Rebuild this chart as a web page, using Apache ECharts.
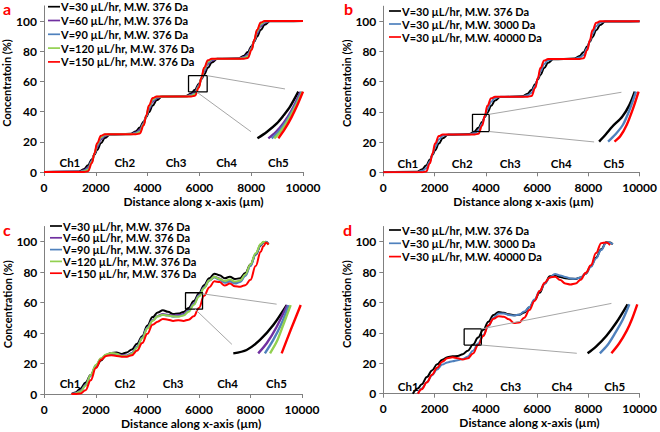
<!DOCTYPE html>
<html>
<head>
<meta charset="utf-8">
<script src="https://cdn.jsdelivr.net/npm/echarts@6/dist/echarts.min.js"></script>
<style>
html, body { margin: 0; padding: 0; background: #fff; }
#chart { width: 660px; height: 432px; }
</style>
</head>
<body>
<div id="chart"></div>
<script>
// legend names and colours
var velNames = ['V=30 µL/hr, M.W. 376 Da', 'V=60 µL/hr, M.W. 376 Da', 'V=90 µL/hr, M.W. 376 Da', 'V=120 µL/hr, M.W. 376 Da', 'V=150 µL/hr, M.W. 376 Da'];
var mwNames = ['V=30 µL/hr, M.W. 376 Da', 'V=30 µL/hr, M.W. 3000 Da', 'V=30 µL/hr, M.W. 40000 Da'];
var velColors = ['#000000', '#7030a0', '#4f81bd', '#92d050', '#ff0000'];
var mwColors = ['#000000', '#4f81bd', '#ff0000'];
var chLabels = ['Ch1', 'Ch2', 'Ch3', 'Ch4', 'Ch5'];
var xTicks = [0, 2000, 4000, 6000, 8000, 10000];
var yTicks = [0, 20, 40, 60, 80, 100];

// panel a
var aX = [0, 1350, 1550, 1700, 1850, 1950, 2050, 2200, 2350, 2550, 3350, 3550, 3700, 3850, 3950, 4050, 4200, 4350, 4550, 5480, 5680, 5830, 5980, 6080, 6180, 6330, 6480, 6680, 7520, 7720, 7870, 8020, 8120, 8220, 8370, 8520, 8720, 10000];
var aBlack = [0, 0.3, 2, 4.5, 8.5, 11.5, 14.5, 19, 22.5, 24.8, 25.3, 27, 29.5, 33.5, 36.5, 39.5, 44, 47.5, 49.8, 50.3, 52, 54.5, 58.5, 61.5, 64.5, 69, 72.5, 74.8, 75.3, 77, 79.5, 83.5, 86.5, 89.5, 94, 97.5, 99.8, 100];
var aPurple = [0, 0.1, 1.2, 3, 7.5, 12, 16.5, 21.5, 24, 25, 25.1, 26.2, 28, 32.5, 37, 41.5, 46.5, 49, 50, 50.1, 51.2, 53, 57.5, 62, 66.5, 71.5, 74, 75, 75.1, 76.2, 78, 82.5, 87, 91.5, 96.5, 99, 100, 100];
var aBlue = [0, 0, 0.8, 2.2, 7, 12.2, 17.5, 22.5, 24.5, 25, 25, 25.8, 27.2, 32, 37.2, 42.5, 47.5, 49.5, 50, 50, 50.8, 52.2, 57, 62.2, 67.5, 72.5, 74.5, 75, 75, 75.8, 77.2, 82, 87.2, 92.5, 97.5, 99.5, 100, 100];
var aGreen = [0, 0, 0.4, 1.5, 6.5, 12.3, 18.3, 23.2, 24.8, 25, 25, 25.4, 26.5, 31.5, 37.3, 43.3, 48.2, 49.8, 50, 50, 50.4, 51.5, 56.5, 62.3, 68.3, 73.2, 74.8, 75, 75, 75.4, 76.5, 81.5, 87.3, 93.3, 98.2, 99.8, 100, 100];
var aRed = [0, 0, 0, 0.5, 6, 12.5, 19, 24, 25, 25, 25, 25, 25.5, 31, 37.5, 44, 49, 50, 50, 50, 50, 50.5, 56, 62.5, 69, 74, 75, 75, 75, 75, 75.5, 81, 87.5, 94, 99, 100, 100, 100];
var aInset = [
  [[8240, 22.3], [8600, 26.5], [8990, 32.2], [9250, 37.5], [9500, 43.3], [9820, 53.2]],
  [[8660, 22.3], [8950, 26.5], [9250, 32.5], [9550, 40.5], [9910, 53.2]],
  [[8790, 22.3], [9050, 26.5], [9350, 33.5], [9650, 42.5], [9950, 53.2]],
  [[8890, 22.3], [9120, 26.5], [9400, 33.5], [9700, 43], [9980, 53.2]],
  [[9050, 22.3], [9300, 28.5], [9550, 36], [9800, 45], [10000, 53.2]]
];
var aBox = [5580, 6300, 53, 63.8];
var aGuides = [[[6300, 63.8], [9305, 55]], [[5896, 53], [7992, 26.7]]];
var aChX = [1000, 3120, 5100, 7050, 9050];
var aChY = 6;

// panel b
var bX = [0, 1320, 1520, 1670, 1820, 1920, 2020, 2170, 2320, 2520, 3360, 3560, 3710, 3860, 3960, 4060, 4210, 4360, 4560, 5430, 5630, 5780, 5930, 6030, 6130, 6280, 6430, 6630, 7460, 7660, 7810, 7960, 8060, 8160, 8310, 8460, 8660, 10000];
var bBlack = [0, 0.3, 2, 4.5, 8.5, 11.5, 14.5, 19, 22.5, 24.8, 25.3, 27, 29.5, 33.5, 36.5, 39.5, 44, 47.5, 49.8, 50.3, 52, 54.5, 58.5, 61.5, 64.5, 69, 72.5, 74.8, 75.3, 77, 79.5, 83.5, 86.5, 89.5, 94, 97.5, 99.8, 100];
var bBlue = [0, 0.1, 1, 2.6, 7.2, 12, 16.8, 21.8, 24.2, 25, 25.1, 26, 27.6, 32.2, 37, 41.8, 46.8, 49.2, 50, 50.1, 51, 52.6, 57.2, 62, 66.8, 71.8, 74.2, 75, 75.1, 76, 77.6, 82.2, 87, 91.8, 96.8, 99.2, 100, 100];
var bRed = [0, 0, 0, 0.5, 6, 12.5, 19, 24, 25, 25, 25, 25, 25.5, 31, 37.5, 44, 49, 50, 50, 50, 50, 50.5, 56, 62.5, 69, 74, 75, 75, 75, 75, 75.5, 81, 87.5, 94, 99, 100, 100, 100];
var bInset = [
  [[8420, 20.3], [8700, 25.5], [8930, 30.2], [9320, 36.8], [9600, 44.5], [9810, 53.4]],
  [[8770, 20.3], [9050, 25], [9350, 31.5], [9600, 41], [9860, 53.4]],
  [[9020, 20.3], [9250, 24], [9500, 31.5], [9750, 42.5], [9960, 53.4]]
];
var bBox = [3480, 4130, 27, 38.4];
var bGuides = [[[4130, 38.4], [9291, 53]], [[4130, 27], [8226, 20.1]]];
var bChX = [960, 3080, 4950, 6940, 9000];
var bChY = 6;

// panel c
var cX = [1050, 1200, 1400, 1600, 1800, 2000, 2200, 2400, 2600, 2800, 3000, 3200, 3400, 3600, 3800, 4000, 4200, 4400, 4600, 4800, 5000, 5200, 5400, 5600, 5800, 6000, 6200, 6400, 6600, 6800, 7000, 7200, 7400, 7600, 7800, 8000, 8200, 8400, 8500, 8600, 8700];
var cBlack = [0, 1, 3.5, 7.5, 12.5, 17.5, 22, 25.5, 27, 27.2, 26.3, 27.3, 29.3, 33, 38, 45, 50.5, 53.5, 55, 54, 52.5, 52.8, 53.8, 56.5, 61, 66, 71.5, 76, 79, 78, 76, 77, 75.5, 76, 79.5, 85, 91.5, 97.5, 99.5, 100, 98.5];
var cPurple = [0, 0.5, 2, 6, 12, 18.5, 23, 25.8, 26.8, 26.5, 25.5, 25.3, 27, 31, 37, 43.5, 48.5, 51.3, 52.5, 52, 51.5, 51.8, 52.5, 55, 59.5, 64.8, 70, 74.5, 77, 75.8, 73.8, 74.5, 73, 74, 78, 84.5, 92, 98, 99.8, 99.8, 98.3];
var cBlue = [0, 0.3, 1.8, 5.8, 12, 18.5, 23, 25.5, 26.3, 26, 25, 25, 26.8, 31, 37, 43.5, 48.3, 51, 52, 51.5, 50.8, 51, 51.8, 54.5, 59, 64.5, 70, 74.5, 76.5, 75, 73, 73.8, 72.5, 73.5, 77.5, 84, 91.8, 98, 99.8, 99.8, 98.3];
var cGreen = [0, 0.2, 1.5, 5.5, 12.5, 19, 23.5, 26, 27, 26.5, 25, 24.8, 26.5, 30.5, 36.5, 43, 48, 51, 52, 51.5, 51, 50.8, 51.5, 54, 58.5, 64, 69.5, 74.5, 77, 75.5, 74.2, 75.2, 73.8, 74.5, 78.5, 85, 92.5, 98.5, 100, 99.5, 98];
var cRed = [0, 0, 0.3, 2.5, 9, 17, 22.5, 25, 25.5, 25, 24.5, 24.5, 25.5, 28.5, 33.5, 39.5, 45.5, 47.5, 49.3, 48.8, 48, 48.5, 48, 48.8, 51, 56.5, 64.5, 70, 74, 73.5, 71.2, 72.5, 70.8, 70.5, 71.5, 75, 84, 93.5, 97, 99.3, 98.2];
var cInset = [
  [[7334, 26.7], [7850, 28.9], [8370, 35.5], [8885, 45.3], [9405, 58.4]],
  [[8300, 26.7], [8630, 33.3], [9020, 44.2], [9430, 58.4]],
  [[8560, 26.7], [8885, 35.5], [9210, 46.4], [9480, 58.4]],
  [[8760, 26.7], [9020, 34.4], [9270, 45.3], [9560, 58.4]],
  [[9210, 26.7], [9560, 42], [9950, 58.4]]
];
var cBox = [5480, 6140, 55.7, 66.5];
var cGuides = [[[6140, 65.8], [9015, 59]], [[5850, 55.7], [7280, 32.6]]];
var cChX = [1000, 3130, 5000, 7110, 9010];
var cChY = 7;

// panel d
var dX = [1150, 1350, 1500, 1700, 1900, 2100, 2300, 2500, 2700, 2900, 3100, 3300, 3500, 3700, 3900, 4100, 4300, 4500, 4700, 4900, 5100, 5300, 5500, 5700, 5900, 6100, 6300, 6500, 6700, 6900, 7100, 7300, 7500, 7700, 7900, 8100, 8300, 8500, 8700, 8850, 8950];
var dBlack = [0, 3.5, 6.2, 11, 15.3, 19.3, 22.3, 24, 24.6, 24.8, 26, 28.3, 32.3, 37, 42, 47.3, 51.8, 53.8, 53.2, 52.2, 51.6, 52, 53.4, 56.8, 61.5, 66.5, 72.5, 77.2, 78, 76.8, 75.9, 75.6, 75.5, 76.5, 79, 84, 89.5, 95, 99.6, 99.5, 98.3];
var dBlue = [null, 0, 3.5, 7.5, 12, 16, 19.2, 20.6, 21.4, 22, 22.8, 24.5, 28.3, 33, 38.7, 44.5, 50, 52.8, 52.8, 51.8, 51.5, 52, 54, 57, 62, 67.5, 72.5, 76.5, 78.7, 77.8, 76.8, 75.8, 75.6, 76.5, 79, 83.5, 89, 94.5, 99.5, 99.3, 98.3];
var dRed = [null, 0, 3, 7.5, 12.5, 17, 21, 23.3, 23.9, 23.3, 22.5, 23.3, 26.5, 32, 38, 45, 49.3, 51, 50.7, 49, 46.5, 46.8, 50, 55, 61, 67.5, 73, 76.5, 77, 74.8, 72.5, 71.8, 72.5, 75, 79.5, 84.5, 92.5, 99, 99.5, 97.8, null];
var dInset = [
  [[7970, 26.6], [8300, 31], [8700, 38], [9100, 47], [9530, 58.8]],
  [[8450, 26.6], [8750, 32], [9050, 40], [9350, 49], [9600, 58.8]],
  [[8900, 26.6], [9200, 33], [9500, 41.5], [9700, 49], [9910, 58.8]]
];
var dBox = [3155, 3825, 32, 42.6];
var dGuides = [[[3825, 42.6], [8900, 59.4]], [[3825, 32], [7550, 26.6]]];
var dChX = [970, 3100, 4970, 6970, 9030];
var dChY = 5;

var FONT = 'Lato';
var AXIS_GREY = '#808080';

function zip(xs, ys) {
  return xs.map(function (x, i) { return [x, ys[i]]; });
}

function curve(name, color, data, g) {
  return {
    type: 'line', name: name, xAxisIndex: g, yAxisIndex: g, data: data,
    smooth: 0.4, smoothMonotone: 'x', showSymbol: false, symbol: 'none',
    lineStyle: { color: color, width: 2 }, itemStyle: { color: color },
    silent: true, animation: false
  };
}

function inset(color, data, g) {
  return {
    type: 'line', xAxisIndex: g, yAxisIndex: g, data: data,
    smooth: 0.3, showSymbol: false, symbol: 'none',
    lineStyle: { color: color, width: 2.4 }, silent: true, animation: false, z: 4
  };
}

function box(b, g) {
  return {
    type: 'line', xAxisIndex: g, yAxisIndex: g,
    data: [[b[0], b[2]], [b[1], b[2]], [b[1], b[3]], [b[0], b[3]], [b[0], b[2]]],
    showSymbol: false, symbol: 'none', lineStyle: { color: '#000', width: 1.3 },
    silent: true, animation: false, z: 3
  };
}

function guide(seg, g) {
  return {
    type: 'line', xAxisIndex: g, yAxisIndex: g, data: seg,
    showSymbol: false, symbol: 'none', lineStyle: { color: '#a6a6a6', width: 1 },
    silent: true, animation: false, z: 3
  };
}

function chText(xs, y, g) {
  return {
    type: 'scatter', xAxisIndex: g, yAxisIndex: g, symbolSize: 0,
    itemStyle: { color: '#000', opacity: 1 }, silent: true, animation: false, z: 5,
    data: xs.map(function (x, i) { return { value: [x, y], name: chLabels[i] }; }),
    label: { show: true, position: 'inside', formatter: '{b}', color: '#000', opacity: 1, fontSize: 11.5, fontWeight: 'bold', fontFamily: FONT, textBorderWidth: 0 }
  };
}

function xAxis(g, shift) {
  return {
    type: 'value', gridIndex: g, min: 0, max: 10000, interval: 2000,
    name: 'Distance along x-axis (µm)', nameLocation: 'middle', nameGap: 23,
    nameTextStyle: { fontSize: 12, fontWeight: 'bold', color: '#000', fontFamily: FONT, padding: [0, 0, 0, shift * 2] },
    axisLine: { show: true, lineStyle: { color: AXIS_GREY, width: 1 } },
    axisTick: { show: true, length: 4, lineStyle: { color: AXIS_GREY }, customValues: xTicks },
    axisLabel: { fontSize: 12, fontWeight: 'bold', color: '#000', fontFamily: FONT, margin: 9, customValues: xTicks,
      formatter: function (v) { return String(v); } },
    splitLine: { show: false }
  };
}

function yAxis(g, name) {
  return {
    type: 'value', gridIndex: g, min: 0, max: 110, interval: 20,
    name: name, nameLocation: 'middle', nameGap: 28,
    nameTextStyle: { fontSize: 11, fontWeight: 'bold', color: '#000', fontFamily: FONT, padding: [0, 0, 0, 12] },
    axisLine: { show: true, lineStyle: { color: AXIS_GREY, width: 1 } },
    axisTick: { show: true, length: 4, lineStyle: { color: AXIS_GREY }, customValues: yTicks },
    axisLabel: { fontSize: 12, fontWeight: 'bold', color: '#000', fontFamily: FONT, margin: 7, customValues: yTicks },
    splitLine: { show: false }
  };
}

function legend(names, left, top, lineH, gap) {
  return {
    data: names, orient: 'vertical', left: left, top: top, padding: 0,
    icon: 'rect', itemWidth: 12, itemHeight: 1.7, itemGap: gap, selectedMode: false,
    textStyle: { fontSize: 11, fontWeight: 'bold', color: '#000', fontFamily: FONT, lineHeight: lineH, padding: [0, 0, 0, -4] }
  };
}

function letter(t, left, top) {
  return { text: t, left: left, top: top, padding: 0, textStyle: { color: '#ff0000', fontSize: 16, fontWeight: 'bold', fontFamily: FONT, lineHeight: 16 } };
}

var series = [];
[aBlack, aPurple, aBlue, aGreen, aRed].forEach(function (ys, i) { series.push(curve(velNames[i], velColors[i], zip(aX, ys), 0)); });
[bBlack, bBlue, bRed].forEach(function (ys, i) { series.push(curve(mwNames[i], mwColors[i], zip(bX, ys), 1)); });
[cBlack, cPurple, cBlue, cGreen, cRed].forEach(function (ys, i) { series.push(curve(velNames[i], velColors[i], zip(cX, ys), 2)); });
[dBlack, dBlue, dRed].forEach(function (ys, i) { series.push(curve(mwNames[i], mwColors[i], zip(dX, ys), 3)); });

[[aBox, aGuides, aInset, velColors, aChX, aChY], [bBox, bGuides, bInset, mwColors, bChX, bChY],
 [cBox, cGuides, cInset, velColors, cChX, cChY], [dBox, dGuides, dInset, mwColors, dChX, dChY]].forEach(function (p, g) {
  series.push(box(p[0], g));
  p[1].forEach(function (seg) { series.push(guide(seg, g)); });
  p[2].forEach(function (d, i) { series.push(inset(p[3][i], d, g)); });
  series.push(chText(p[4], p[5], g));
});

var chart = echarts.init(document.getElementById('chart'), null, { renderer: 'svg' });
chart.setOption({
  animation: false,
  backgroundColor: '#fff',
  textStyle: { fontFamily: FONT },
  title: [letter('a', 3, 0), letter('b', 344, 0), letter('c', 3, 221), letter('d', 343, 221)],
  legend: [
    legend(velNames, 48, 0.7, 12, 1.8),
    legend(mwNames, 389, 5, 12, 1),
    legend(velNames, 50, 220.5, 11, 0.8),
    legend(mwNames, 389, 224, 12, 1.3)
  ],
  grid: [
    { left: 44, top: 5.9, width: 259, height: 166.1 },
    { left: 383.3, top: 6.2, width: 259.4, height: 166.1 },
    { left: 44.3, top: 226.5, width: 257.7, height: 167.5 },
    { left: 383.3, top: 226.5, width: 258, height: 167.2 }
  ],
  xAxis: [xAxis(0, 20), xAxis(1, 12), xAxis(2, 18), xAxis(3, 18)],
  yAxis: [yAxis(0, 'Concentratoin (%)'), yAxis(1, 'Concentratoin (%)'), yAxis(2, 'Concentration (%)'), yAxis(3, 'Concentration (%)')],
  series: series
});
</script>
</body>
</html>
